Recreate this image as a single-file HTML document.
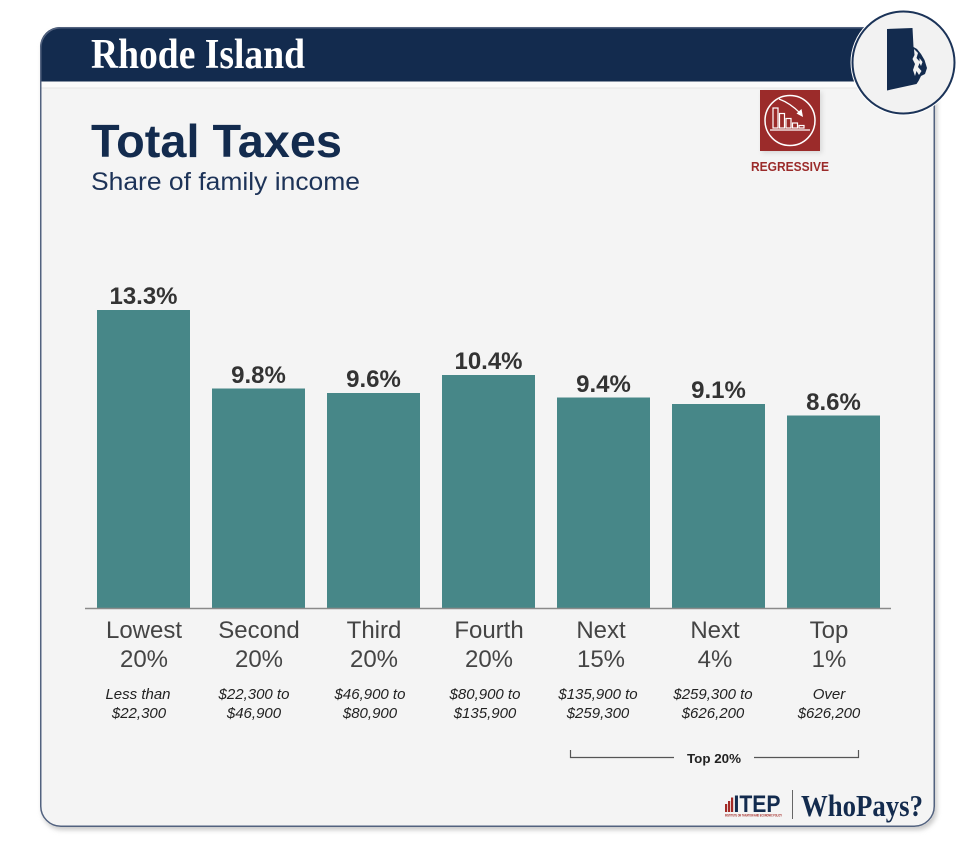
<!DOCTYPE html>
<html>
<head>
<meta charset="utf-8">
<style>
  html, body { margin: 0; padding: 0; background: #ffffff; }
  body { width: 975px; height: 858px; overflow: hidden; }
  svg { display: block; }
  .sans { font-family: "Liberation Sans", Arial, sans-serif; }
  .serif { font-family: "Liberation Serif", "Times New Roman", serif; }
</style>
</head>
<body>
<svg width="975" height="858" viewBox="0 0 975 858" xmlns="http://www.w3.org/2000/svg">
  <defs>
    <clipPath id="cardClip">
      <rect x="40" y="27" width="895" height="800" rx="20" ry="20"/>
    </clipPath>
    <filter id="shadow" x="-10%" y="-10%" width="120%" height="120%">
      <feGaussianBlur stdDeviation="2.5"/>
    </filter>
  </defs>

  <rect x="0" y="0" width="975" height="858" fill="#ffffff"/>

  <!-- card shadow -->
  <rect x="42" y="30" width="895" height="800" rx="20" ry="20" fill="#c9c9c9" filter="url(#shadow)"/>
  <!-- card -->
  <rect x="40" y="27" width="895" height="800" rx="20" ry="20" fill="#f4f4f4"/>
  <g clip-path="url(#cardClip)">
    <rect x="40" y="27" width="895" height="54.5" fill="#132b4e"/>
    <rect x="40" y="81.5" width="895" height="6" fill="#fbfbfb"/>
    <rect x="40" y="87.5" width="895" height="1" fill="#e6e6e6"/>
  </g>
  <rect x="40.75" y="27.75" width="893.5" height="798.5" rx="20" ry="20" fill="none" stroke="#52627f" stroke-width="1.5"/>

  <!-- header title -->
  <text x="91" y="68" class="serif" font-weight="bold" font-size="42" fill="#ffffff" textLength="214" lengthAdjust="spacingAndGlyphs">Rhode Island</text>

  <!-- state circle -->
  <circle cx="903.5" cy="62.5" r="53" fill="#ffffff"/>
  <circle cx="903.5" cy="62.5" r="51" fill="#f2f2f2" stroke="#1b3358" stroke-width="2"/>
  <path d="M887,29 L912.5,28 L913.5,47 L917,49 L921,54 L924.5,60 L927,68 L925,74 L921,76 L918.5,81 L916.5,84 L887,90.5 Z" fill="#132b4e"/>
  <path d="M914,49 L918,53 L916.5,58 L920,62 L918,67 L921.5,71 L919,75 L916.5,71 L915,76 L913,70 L915,64 L912.5,59 L914.5,55 Z" fill="#f2f2f2"/>
  <path d="M919.5,58 L922.5,62 L921,66 L919.5,63 Z" fill="#f2f2f2"/>

  <!-- titles -->
  <text x="91" y="157" class="sans" font-weight="bold" font-size="46" fill="#132b4e" textLength="251" lengthAdjust="spacingAndGlyphs">Total Taxes</text>
  <text x="91" y="190" class="sans" font-size="25" fill="#1d3358" textLength="269" lengthAdjust="spacingAndGlyphs">Share of family income</text>

  <!-- regressive icon -->
  <rect x="762" y="92" width="60" height="61" fill="#d8d8d8" filter="url(#shadow)"/>
  <rect x="760" y="90" width="60" height="61" fill="#9b2b2a"/>
  <circle cx="790" cy="120.5" r="25" fill="none" stroke="#ffffff" stroke-width="1.5"/>
  <g fill="none" stroke="#ffffff" stroke-width="1.2">
    <rect x="773" y="108" width="5" height="20"/>
    <rect x="779.5" y="113.5" width="5" height="14.5"/>
    <rect x="786" y="118.5" width="5" height="9.5"/>
    <rect x="792.5" y="123" width="5" height="5"/>
    <rect x="799" y="125.5" width="5" height="2.5"/>
    <line x1="770" y1="130" x2="810" y2="130"/>
    <path d="M779,99 Q790,103 800,113"/>
  </g>
  <path d="M803,117 L796.5,113.5 L801.5,109 Z" fill="#ffffff"/>
  <text x="790" y="171" class="sans" font-weight="bold" font-size="12.5" fill="#9b2b2a" text-anchor="middle" textLength="78" lengthAdjust="spacingAndGlyphs">REGRESSIVE</text>

  <!-- bars -->
  <g fill="#478788">
    <rect x="97" y="310" width="93" height="298"/>
    <rect x="212" y="388.5" width="93" height="219.5"/>
    <rect x="327" y="393" width="93" height="215"/>
    <rect x="442" y="375" width="93" height="233"/>
    <rect x="557" y="397.5" width="93" height="210.5"/>
    <rect x="672" y="404" width="93" height="204"/>
    <rect x="787" y="415.5" width="93" height="192.5"/>
  </g>
  <line x1="85" y1="608.5" x2="891" y2="608.5" stroke="#8a8a8a" stroke-width="1.5"/>

  <!-- value labels -->
  <g class="sans" font-weight="bold" font-size="24" fill="#333333" text-anchor="middle">
    <text x="143.5" y="304">13.3%</text>
    <text x="258.5" y="383">9.8%</text>
    <text x="373.5" y="387">9.6%</text>
    <text x="488.5" y="369">10.4%</text>
    <text x="603.5" y="392">9.4%</text>
    <text x="718.5" y="398">9.1%</text>
    <text x="833.5" y="410">8.6%</text>
  </g>

  <!-- category labels -->
  <g class="sans" font-size="24" fill="#444444" text-anchor="middle">
    <text x="144" y="638">Lowest</text><text x="144" y="667">20%</text>
    <text x="259" y="638">Second</text><text x="259" y="667">20%</text>
    <text x="374" y="638">Third</text><text x="374" y="667">20%</text>
    <text x="489" y="638">Fourth</text><text x="489" y="667">20%</text>
    <text x="601" y="638">Next</text><text x="601" y="667">15%</text>
    <text x="715" y="638">Next</text><text x="715" y="667">4%</text>
    <text x="829" y="638">Top</text><text x="829" y="667">1%</text>
  </g>

  <!-- income ranges -->
  <g class="sans" font-style="italic" font-size="15" fill="#222222" text-anchor="middle">
    <text x="138" y="699">Less than</text><text x="139" y="718">$22,300</text>
    <text x="254" y="699">$22,300 to</text><text x="254" y="718">$46,900</text>
    <text x="370" y="699">$46,900 to</text><text x="370" y="718">$80,900</text>
    <text x="485" y="699">$80,900 to</text><text x="485" y="718">$135,900</text>
    <text x="598" y="699">$135,900 to</text><text x="598" y="718">$259,300</text>
    <text x="713" y="699">$259,300 to</text><text x="713" y="718">$626,200</text>
    <text x="829" y="699">Over</text><text x="829" y="718">$626,200</text>
  </g>

  <!-- Top 20% bracket -->
  <path d="M570.5,750 V757.5 H674 M754,757.5 H858.5 V750" fill="none" stroke="#555555" stroke-width="1.2"/>
  <text x="714" y="763" class="sans" font-weight="bold" font-size="13" fill="#222222" text-anchor="middle" textLength="54" lengthAdjust="spacingAndGlyphs">Top 20%</text>

  <!-- ITEP logo -->
  <g fill="#a32a26">
    <rect x="725" y="804" width="2.2" height="8"/>
    <rect x="728" y="801" width="2.2" height="11"/>
    <rect x="731" y="797.5" width="2.2" height="14.5"/>
  </g>
  <text x="733.5" y="812" class="sans" font-weight="bold" font-size="24" fill="#132b4e" textLength="47" lengthAdjust="spacingAndGlyphs">ITEP</text>
  <text x="725" y="816.5" class="sans" font-weight="bold" font-size="3.2" fill="#a32a26" textLength="57" lengthAdjust="spacingAndGlyphs">INSTITUTE ON TAXATION AND ECONOMIC POLICY</text>
  <line x1="792.5" y1="790" x2="792.5" y2="819" stroke="#666666" stroke-width="1"/>
  <text x="801" y="816" class="serif" font-weight="bold" font-size="31" fill="#132b4e" textLength="122" lengthAdjust="spacingAndGlyphs">WhoPays?</text>
</svg>
</body>
</html>
